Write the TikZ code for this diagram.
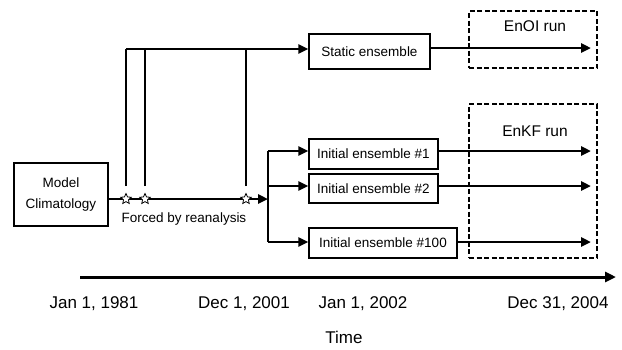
\documentclass[tikz,border=0pt]{standalone}
\usepackage{fontspec}
\setmainfont{Liberation Sans}
\usetikzlibrary{arrows.meta,shapes.geometric}
\begin{document}
\begin{tikzpicture}[x=1pt,y=-1pt,
  box/.style={draw, line width=1.3pt, minimum height=30pt, inner sep=0pt,
    font=\fontsize{13.5}{21}\selectfont},
  thickline/.style={line width=2.6pt},
  arr/.style={line width=2.6pt, -{Triangle[length=10pt,width=9pt]}},
  thinline/.style={line width=1.3pt},
  runbox/.style={draw, line width=2pt, dash pattern=on 5pt off 2.5pt, inner sep=0pt},
  startick/.style={star, star points=5, star point ratio=2.1, minimum size=11pt,
    inner sep=0pt, draw, fill=white, line width=0.8pt},
  runlabel/.style={font=\fontsize{15.5}{18}\selectfont},
  datelabel/.style={font=\fontsize{17}{20}\selectfont}]
\useasboundingbox (0,0) rectangle (622,349);

% dashed run boxes
\node[runbox, minimum width=128pt, minimum height=57pt] (enoi) at (533,39.5) {};
\node[runbox, minimum width=128pt, minimum height=154pt] (enkf) at (533,181) {};
\node[runlabel] (enoil) at (535,26) {EnOI run};
\node[runlabel] (enkfl) at (535,131) {EnKF run};

% boxes
\node[box, minimum width=94pt, minimum height=63pt, align=center] (mc) at (61,194.5) {Model\\Climatology};
\node[box, minimum width=121pt, minimum height=35pt] (se) at (369.5,51.5) {Static ensemble};
\node[box, minimum width=129pt] (ie1) at (373.5,154) {Initial ensemble \#1};
\node[box, minimum width=129pt, minimum height=29pt] (ie2) at (373.5,188.5) {Initial ensemble \#2};
\node[box, minimum width=148pt] (ie100) at (383,243) {Initial ensemble \#100};

% coordinates
\coordinate (s1) at (126,199);
\coordinate (s2) at (145,199);
\coordinate (s3) at (246,199);
\coordinate (v1) at (126,186);
\coordinate (v2) at (145,186);
\coordinate (v3) at (246,186);
\coordinate (top1) at (126,49);
\coordinate (top2) at (145,49);
\coordinate (top3) at (246,49);
\coordinate (br) at (268,199);
\coordinate (b1) at (268,151);
\coordinate (b2) at (268,186);
\coordinate (b3) at (268,242);
\coordinate (eo) at (591,48);
\coordinate (e1) at (591,151);
\coordinate (e2) at (591,186);
\coordinate (e3) at (591,242);

% main line
\draw[arr] (mc.east |- s1) -- (br);
% vertical lines from the stars
\draw[thinline] (v1) -- (top1);
\draw[thinline] (v2) -- (top2);
\draw[thinline] (v3) -- (top3);
% top line to static ensemble
\draw[arr] (top1) -- (top1 -| se.west);
% branch
\draw[thickline] (b1) -- (b3);
\draw[arr] (b1) -- (b1 -| ie1.west);
\draw[arr] (b2) -- (b2 -| ie2.west);
\draw[arr] (b3) -- (b3 -| ie100.west);
% runs
\draw[arr] (se.east |- eo) -- (eo);
\draw[arr] (ie1.east |- e1) -- (e1);
\draw[arr] (ie2.east |- e2) -- (e2);
\draw[arr] (ie100.east |- e3) -- (e3);

% stars
\node[startick] (st1) at (s1) {};
\node[startick] (st2) at (s2) {};
\node[startick] (st3) at (s3) {};
\node[font=\fontsize{13.5}{16}\selectfont] (forced) at (184,219) {Forced by reanalysis};

% time axis
\coordinate (t0) at (80,277);
\coordinate (t1) at (616,277);
\draw[line width=3pt, -{Triangle[length=11pt,width=10pt]}] (t0) -- (t1);
\node[datelabel] (d1) at (94,304) {Jan 1, 1981};
\node[datelabel] (d2) at (244,304) {Dec 1, 2001};
\node[datelabel] (d3) at (363,304) {Jan 1, 2002};
\node[datelabel] (d4) at (558,304) {Dec 31, 2004};
\node[datelabel] (time) at (344,337) {Time};
\end{tikzpicture}
\end{document}
